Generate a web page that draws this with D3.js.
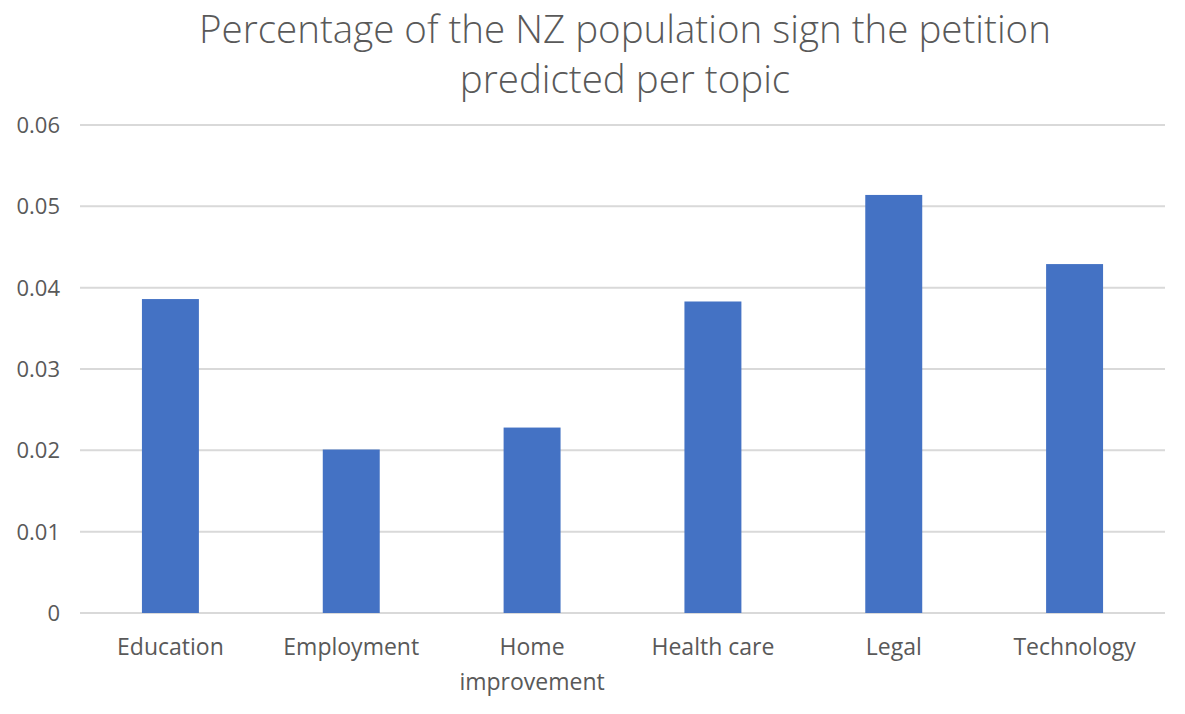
<!DOCTYPE html>
<html>
<head>
<meta charset="utf-8">
<script src="https://cdn.jsdelivr.net/npm/d3@7"></script>
<style>
  body { margin: 0; background: #fff; }
  svg text { font-family: "Open Sans", "Noto Sans", sans-serif; fill: #595959; }
</style>
</head>
<body>
<svg id="chart" width="1185" height="714"></svg>
<script>
// topics and predicted share of population signing
const topics = ['Education', 'Employment', 'Home improvement', 'Health care', 'Legal', 'Technology'];
const shares = [0.0386, 0.0201, 0.0228, 0.0383, 0.0514, 0.0429];
const yTicks = [0, 0.01, 0.02, 0.03, 0.04, 0.05, 0.06];
const titleLines = ['Percentage of the NZ population sign the petition', 'predicted per topic'];

const svg = d3.select('#chart');
const plotLeft = 80, plotRight = 1165, plotTop = 125, plotBottom = 613;

const x = d3.scaleBand()
  .domain(topics)
  .range([plotLeft, plotRight])
  .paddingInner(0.685)
  .paddingOuter(0.3425);

const y = d3.scaleLinear().domain([0, 0.06]).range([plotBottom, plotTop]);

// gridlines
svg.append('g')
  .selectAll('line')
  .data(yTicks)
  .join('line')
  .attr('x1', plotLeft)
  .attr('x2', plotRight)
  .attr('y1', d => y(d))
  .attr('y2', d => y(d))
  .attr('stroke', '#d9d9d9')
  .attr('stroke-width', 2);

// y labels
svg.append('g')
  .selectAll('text')
  .data(yTicks)
  .join('text')
  .attr('x', 60)
  .attr('y', d => y(d) + 8)
  .attr('text-anchor', 'end')
  .attr('font-size', '22px')
  .text(d => d === 0 ? '0' : d.toFixed(2));

// bars
svg.append('g')
  .selectAll('rect')
  .data(topics)
  .join('rect')
  .attr('x', d => x(d))
  .attr('width', x.bandwidth())
  .attr('y', (d, i) => y(shares[i]))
  .attr('height', (d, i) => y(0) - y(shares[i]))
  .attr('fill', '#4472c4');

// category labels, wrap the long one
const catLabels = svg.append('g')
  .selectAll('text')
  .data(topics)
  .join('text')
  .attr('text-anchor', 'middle')
  .attr('font-size', '23px')
  .attr('x', d => x(d) + x.bandwidth() / 2)
  .attr('y', 655);

catLabels.each(function(d) {
  const words = d === 'Home improvement' ? ['Home', 'improvement'] : [d];
  d3.select(this).selectAll('tspan')
    .data(words)
    .join('tspan')
    .attr('x', x(d) + x.bandwidth() / 2)
    .attr('dy', (w, i) => i === 0 ? 0 : 35)
    .text(w => w);
});

// title
svg.append('text')
  .attr('text-anchor', 'middle')
  .attr('font-size', '38.5px')
  .attr('font-weight', 300)
  .selectAll('tspan')
  .data(titleLines)
  .join('tspan')
  .attr('x', 625)
  .attr('y', (d, i) => 43 + i * 50)
  .text(d => d);
</script>
</body>
</html>
